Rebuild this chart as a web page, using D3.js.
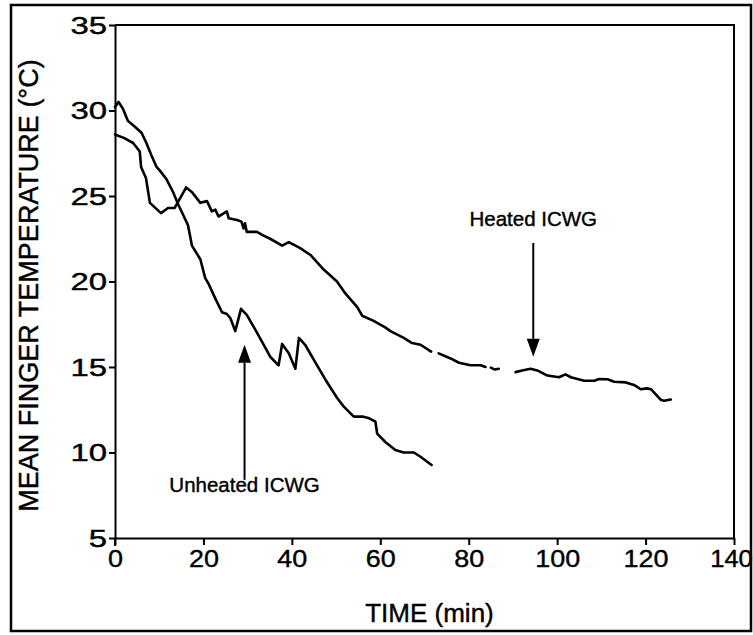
<!DOCTYPE html>
<html>
<head>
<meta charset="utf-8">
<script src="https://cdn.jsdelivr.net/npm/d3@7"></script>
<style>
  html, body { margin: 0; padding: 0; background: #fff; }
  svg { display: block; font-family: "Liberation Sans", Arial, Helvetica, sans-serif; }
  svg text { stroke: #000; stroke-width: 0.4px; fill: #000; }
</style>
</head>
<body>
<svg id="chart" width="753" height="635"></svg>
<script>
// ---- data (time in min, mean finger temperature in °C) ----
const heatedTime = [0, 2, 4.1, 5.6, 5.9, 7.0, 7.9, 10.4, 12, 13.5, 16.1, 17.5, 19.3, 20.8, 21.9, 22.7, 23.4, 25.3, 25.7, 27.6, 28.6, 29.1, 29.4, 29.8, 32.1, 33.5, 35.1, 37.8, 39.3, 41.9, 44.2, 47.2, 50.2, 52.1, 54.8, 55.9, 58.5, 61.2, 62.3, 65.3, 67.2, 69.1, 71.5, null, 73.2, 75.9, 77.8, 80.4, 82.7, 83.8, null, 85.0, 85.9, 86.8, null, 90.6, 92.1, 94.0, 95.5, 97.8, 100.4, 101.9, 103.1, 104.6, 106.1, 108.4, 109.5, 111.4, 112.9, 115.5, 117.4, 118.9, 120.3, 121.2, 123.5, 124.2, 125.7];
const heatedTemp = [28.6, 28.4, 28.1, 27.6, 26.7, 26.05, 24.6, 24.0, 24.3, 24.3, 25.5, 25.2, 24.6, 24.7, 24.1, 24.2, 23.8, 24.1, 23.7, 23.6, 23.5, 23.1, 23.4, 22.9, 22.9, 22.7, 22.5, 22.1, 22.3, 21.95, 21.55, 20.7, 20.0, 19.3, 18.5, 18.0, 17.7, 17.3, 17.1, 16.7, 16.4, 16.3, 15.9, null, 15.8, 15.5, 15.25, 15.1, 15.1, 15.0, null, 14.96, 14.85, 14.9, null, 14.7, 14.8, 14.9, 14.8, 14.5, 14.4, 14.57, 14.4, 14.3, 14.2, 14.2, 14.3, 14.28, 14.14, 14.1, 13.95, 13.7, 13.75, 13.7, 13.07, 13.03, 13.1];

const unheatedTime = [0, 0.8, 1.8, 2.9, 4.5, 6.0, 7.1, 8.2, 9.4, 10.1, 11.6, 13.1, 14.3, 15.4, 16.5, 17.4, 19.3, 20.4, 21.1, 22.7, 24.2, 25.3, 26.1, 27.2, 28.5, 29.8, 31.7, 33.2, 35.1, 37.0, 37.8, 39.3, 40.8, 41.6, 43.0, 45.7, 47.5, 50.2, 51.7, 54.0, 56.0, 57.5, 58.9, 59.3, 61.2, 63.4, 65.3, 67.6, 69.1, 71.6];
const unheatedTemp = [30.2, 30.5, 30.1, 29.4, 29.05, 28.7, 28.1, 27.4, 26.7, 26.5, 26.0, 25.25, 24.5, 23.9, 23.3, 22.1, 21.3, 20.2, 19.9, 19.0, 18.2, 18.1, 17.85, 17.1, 18.4, 18.05, 17.2, 16.5, 15.6, 15.1, 16.35, 15.8, 14.9, 16.7, 16.3, 15.1, 14.3, 13.2, 12.7, 12.1, 12.1, 12.0, 11.8, 11.1, 10.6, 10.15, 10.0, 10.0, 9.75, 9.27];

const xTicks = [0, 20, 40, 60, 80, 100, 120, 140];
const yTicks = [5, 10, 15, 20, 25, 30, 35];

const annotationLabels = ["Heated ICWG", "Unheated ICWG"];
const annotationTime = [94.6, 29.3];
const annotationTextTemp = [23.25, 7.7];
const annotationArrowFrom = [22.25, 8.4];
const annotationArrowTo = [15.6, 16.3];

const xTitle = "TIME (min)";
const yTitle = "MEAN FINGER TEMPERATURE (°C)";

// ---- layout ----
const svg = d3.select("#chart");
const mLeft = 115, mRight = 734, mTop = 25, mBottom = 538;

const x = d3.scaleLinear().domain([0, 140]).range([mLeft, mRight]);
const y = d3.scaleLinear().domain([5, 35]).range([mBottom, mTop]);

// outer border
svg.append("rect")
  .attr("x", 11).attr("y", 5).attr("width", 740).attr("height", 626)
  .attr("fill", "none").attr("stroke", "#000").attr("stroke-width", 2.5);

// plot frame (top and right)
svg.append("path")
  .attr("d", `M${mLeft},${mTop}H${x(140)}V${mBottom}`)
  .attr("fill", "none").attr("stroke", "#000").attr("stroke-width", 2);

// x axis
const gx = svg.append("g")
  .attr("transform", `translate(0,${mBottom})`)
  .call(d3.axisBottom(x).tickValues(xTicks).tickSize(7).tickPadding(4).tickSizeOuter(0));
gx.select(".domain").attr("stroke-width", 2);
gx.selectAll(".tick line").attr("stroke-width", 2);
gx.selectAll(".tick text")
  .attr("font-size", 24.5)
  .attr("y", 0).attr("dy", 0)
  .attr("transform", d => d === 140 ? "translate(-3,29) scale(1.04,1)" : "translate(0,29) scale(1.1,1)");

// y axis
const gy = svg.append("g")
  .attr("transform", `translate(${mLeft},0)`)
  .call(d3.axisLeft(y).tickValues(yTicks).tickSize(6).tickPadding(2).tickSizeOuter(0));
gy.select(".domain").attr("stroke-width", 2);
gy.selectAll(".tick line").attr("stroke-width", 2);
gy.selectAll(".tick text")
  .attr("font-size", 23.5)
  .attr("x", 0).attr("dy", "0.35em")
  .attr("transform", "translate(-8,0) scale(1.4,1)");

// axis extends slightly below origin
svg.append("line")
  .attr("x1", mLeft).attr("x2", mLeft).attr("y1", mBottom).attr("y2", mBottom + 8)
  .attr("stroke", "#000").attr("stroke-width", 2);

// axis titles
svg.append("text")
  .attr("x", (mLeft + mRight) / 2 + 5).attr("y", 622)
  .attr("text-anchor", "middle").attr("font-size", 26)
  .text(xTitle);

svg.append("text")
  .attr("transform", `translate(38,${(mTop + mBottom) / 2 + 4}) rotate(-90)`)
  .attr("text-anchor", "middle").attr("font-size", 27)
  .text(yTitle);

// curves
const line = d3.line()
  .defined(d => d[0] !== null && d[1] !== null)
  .x(d => x(d[0])).y(d => y(d[1]));

const heated = heatedTime.map((t, i) => [t, heatedTemp[i]]);
const unheated = unheatedTime.map((t, i) => [t, unheatedTemp[i]]);

[heated, unheated].forEach(series => {
  svg.append("path")
    .datum(series)
    .attr("d", line)
    .attr("fill", "none")
    .attr("stroke", "#000")
    .attr("stroke-width", 2.6)
    .attr("stroke-linejoin", "round")
    .attr("stroke-linecap", "round");
});

// annotations
annotationLabels.forEach((label, i) => {
  const ax = x(annotationTime[i]);
  svg.append("text")
    .attr("x", ax).attr("y", y(annotationTextTemp[i]))
    .attr("text-anchor", "middle").attr("font-size", 20.5)
    .text(label);
  const y0 = y(annotationArrowFrom[i]);
  const y1 = y(annotationArrowTo[i]);
  const dir = y1 > y0 ? 1 : -1;
  const headLen = 18, headHalf = 6.5;
  svg.append("line")
    .attr("x1", ax).attr("x2", ax)
    .attr("y1", y0).attr("y2", y1 - dir * headLen)
    .attr("stroke", "#000").attr("stroke-width", 2);
  svg.append("path")
    .attr("d", `M${ax},${y1}L${ax - headHalf},${y1 - dir * headLen}L${ax + headHalf},${y1 - dir * headLen}Z`)
    .attr("fill", "#000");
});
</script>
</body>
</html>
